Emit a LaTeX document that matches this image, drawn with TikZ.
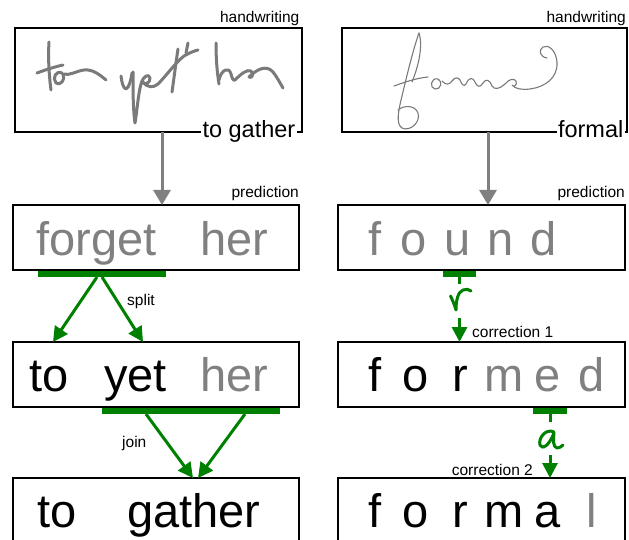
\documentclass[tikz,border=0pt]{standalone}
\usepackage{fontspec}
\setmainfont{Liberation Sans}
\usetikzlibrary{arrows.meta,calc}
\definecolor{okgreen}{RGB}{0,128,0}
\definecolor{midgray}{RGB}{128,128,128}
\definecolor{inkgray}{RGB}{122,122,122}

\begin{document}
\begin{tikzpicture}[x=1pt,y=-1pt,
  box/.style={draw=black, line width=2pt, rectangle, outer sep=0pt, inner sep=0pt, anchor=north west},
  bar/.style={fill=okgreen, rectangle, inner sep=0pt, outer sep=0pt, minimum height=6.5pt, anchor=north west},
  big/.style={font=\fontsize{47}{47}\selectfont, inner sep=0pt, anchor=base west},
  letter/.style={font=\fontsize{47}{47}\selectfont, inner sep=0pt, anchor=base},
  small/.style={font=\fontsize{15.5}{16}\selectfont, inner sep=0pt},
  mid/.style={font=\fontsize{23.5}{24}\selectfont, fill=white, inner sep=1.5pt, anchor=base east},
  grayarrow/.style={draw=midgray, line width=3pt, -{Triangle[length=15pt,width=17pt]}},
  greenarrow/.style={draw=okgreen, line width=3pt, -{Triangle[length=15pt,width=15pt]}},
  greenline/.style={draw=okgreen, line width=3pt},
  pen/.style={draw=inkgray, line width=3pt, line cap=round, line join=round},
  finepen/.style={draw=inkgray, line width=1.1pt, line cap=round, line join=round},
  greenpen/.style={draw=okgreen, line width=3pt, line cap=round, line join=round},
]
\useasboundingbox (0,0) rectangle (629,540);
\clip (0,0) rectangle (629,540);

% ---------- boxes ----------
\node[box, minimum width=287pt, minimum height=104pt] (hwL) at (15,28) {};
\node[box, minimum width=286pt, minimum height=65pt] (predL) at (13,205) {};
\node[box, minimum width=286pt, minimum height=65pt] (splitL) at (13,342) {};
\node[box, minimum width=286pt, minimum height=75pt] (joinL) at (13,478) {};
\node[box, minimum width=285pt, minimum height=104pt] (hwR) at (342,28) {};
\node[box, minimum width=287pt, minimum height=65pt] (predR) at (338,205) {};
\node[box, minimum width=287pt, minimum height=65pt] (c1R) at (338,342) {};
\node[box, minimum width=287pt, minimum height=75pt] (c2R) at (338,478) {};

% ---------- box labels ----------
\node[small, anchor=base east] (lhwL) at (299.5,23) {handwriting};
\node[small, anchor=base east] (lhwR) at (626,23) {handwriting};
\node[small, anchor=base east] (lpL) at (299,198) {prediction};
\node[small, anchor=base east] (lpR) at (625,198) {prediction};
\node[mid] (gtL) at (297,138) {to gather};
\node[mid] (gtR) at (625,138) {formal};

% ---------- left words ----------
\node[big, text=midgray] (wForget) at (36,255) {forget};
\node[big, text=midgray] (wHerA) at (200,255) {her};
\node[big] (wToA) at (29,391) {to};
\node[big] (wYet) at (104,391) {yet};
\node[big, text=midgray] (wHerB) at (200,391) {her};
\node[big] (wToB) at (37,527) {to};
\node[big] (wGather) at (127,527) {gather};

% ---------- right letters ----------
\foreach \x/\c/\col [count=\i] in {375/f/midgray,414/o/midgray,458/u/midgray,501/n/midgray,544/d/midgray}
  \node[letter, text=\col] (pf\i) at (\x,255) {\c};
\foreach \x/\c/\col [count=\i] in {375/f/black,416/o/black,460/r/black,504/m/midgray,548/e/midgray,592/d/midgray}
  \node[letter, text=\col] (cf\i) at (\x,391) {\c};
\foreach \x/\c/\col [count=\i] in {375/f/black,416/o/black,460/r/black,504/m/black,548/a/black,592/l/midgray}
  \node[letter, text=\col] (ff\i) at (\x,527) {\c};

% ---------- green bars ----------
\node[bar, minimum width=128pt] (barA) at (38,270.5) {};
\node[bar, minimum width=178pt] (barB) at (102,407.5) {};
\node[bar, minimum width=33pt] (barC) at (443,270.5) {};
\node[bar, minimum width=34pt] (barD) at (533,407.5) {};

% ---------- gray arrows ----------
\draw[grayarrow] ([xshift=3.5pt]hwL.south) -- ($(predL.north west)+(149,0)$);
\draw[grayarrow] ([xshift=3.5pt]hwR.south) -- ($(predR.north west)+(150,0)$);

% ---------- split and join ----------
\draw[greenarrow] ([xshift=-5pt]barA.south) -- ($(splitL.north west)+(40,0)$);
\draw[greenarrow] ([xshift=0pt]barA.south) -- ($(splitL.north west)+(130,0)$);
\node[small, anchor=base west] (lsplit) at (127,305) {split};
\draw[greenarrow] ([xshift=-45pt]barB.south) -- ($(joinL.north west)+(180,0)$);
\draw[greenarrow] ([xshift=54pt]barB.south) -- ($(joinL.north west)+(185,0)$);
\node[small, anchor=base west] (ljoin) at (122,447) {join};

% ---------- corrections ----------
\draw[greenline] (barC.south) -- ++(0,7);
\coordinate (r1) at (459.5,318);
\draw[greenarrow] (r1) -- (r1 |- c1R.north);
\draw[greenpen] (450.5,296) .. controls (452.5,300) and (454.5,305) .. (456,310)
  .. controls (456,300) and (458,292) .. (463,290) .. controls (466,289) and (469,289) .. (471,291);
\node[small, anchor=base west] (lc1) at (472,337) {correction 1};

\draw[greenline] (barD.south) -- ++(0,8);
\coordinate (r2) at (550,455);
\draw[greenarrow] (r2) -- (r2 |- c2R.north);
\draw[greenpen] (554,432) .. controls (546,428) and (538,438) .. (540,445)
  .. controls (542,450) and (549,446) .. (554,433)
  .. controls (553,440) and (553,447) .. (557,448) .. controls (559,448) and (561,447) .. (563,445);
\node[small, anchor=base east] (lc2) at (533,475) {correction 2};

% ---------- handwriting: for yet her ----------
\draw[pen] (49,42) .. controls (48,58) and (49,75) .. (51,90);
\draw[pen] (37,73) .. controls (45,70) and (54,67) .. (63,65);
\draw[pen] (62,73) .. controls (56,70) and (52,78) .. (56,83) .. controls (60,86) and (66,80) .. (63,74)
  .. controls (70,76) and (76,71) .. (84,70) .. controls (93,69) and (100,75) .. (106,80);
\draw[pen] (121,76) .. controls (122,83) and (123,88) .. (126,89) .. controls (129,88) and (131,80) .. (132,73);
\draw[pen] (133,72) .. controls (133,90) and (133,110) .. (135,123) .. controls (137,112) and (138,95) .. (141,84)
  .. controls (143,76) and (149,73) .. (150,78) .. controls (151,83) and (143,86) .. (143,82)
  .. controls (148,88) and (153,88) .. (158,84) .. controls (166,76) and (176,62) .. (184,56)
  .. controls (189,53) and (194,51) .. (198,50);
\draw[pen] (178,49) .. controls (176,62) and (174,78) .. (172,92);
\draw[pen] (188,43) -- (186,53);
\draw[pen] (216,43) .. controls (216,58) and (217,72) .. (219,84);
\draw[pen] (219,80) .. controls (221,70) and (229,66) .. (231,74) .. controls (232,78) and (233,81) .. (235,80)
  .. controls (241,74) and (247,69) .. (251,71) .. controls (254,74) and (252,79) .. (249,77)
  .. controls (256,70) and (266,64) .. (273,72) .. controls (277,77) and (280,83) .. (283,88);

% ---------- handwriting: formed ----------
\draw[finepen] (419,33) .. controls (413,50) and (407,75) .. (402,96) .. controls (398,112) and (396,124) .. (402,128)
  .. controls (410,132) and (421,122) .. (418,113) .. controls (415,105) and (404,105) .. (398,110);
\draw[finepen] (419,33) .. controls (423,45) and (419,65) .. (412,82);
\draw[finepen] (394,86) .. controls (405,82) and (417,78) .. (428,77);
\draw[finepen] (438,79) .. controls (431,77) and (429,88) .. (435,89) .. controls (441,90) and (443,81) .. (438,79);
\draw[finepen] (442,81) .. controls (446,86) and (450,84) .. (452,81) .. controls (455,77) and (458,77) .. (460,80)
  .. controls (462,85) and (464,87) .. (466,84) .. controls (469,77) and (473,77) .. (475,82)
  .. controls (477,87) and (480,88) .. (483,83) .. controls (486,78) and (490,80) .. (492,86)
  .. controls (494,90) and (500,89) .. (505,84) .. controls (509,79) and (514,78) .. (516,81)
  .. controls (518,85) and (513,88) .. (512,85) .. controls (515,89) and (522,90) .. (530,89)
  .. controls (545,87) and (558,78) .. (557,62) .. controls (556,50) and (548,44) .. (543,47)
  .. controls (538,50) and (540,57) .. (547,58);
\end{tikzpicture}
\end{document}
